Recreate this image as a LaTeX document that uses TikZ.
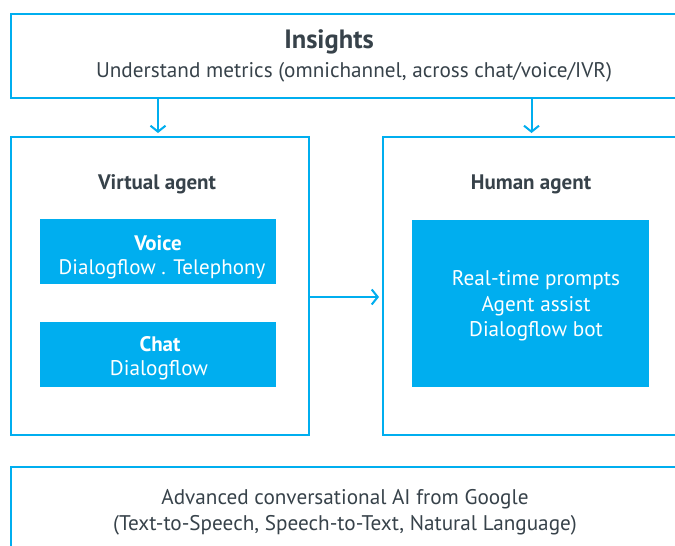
\documentclass[tikz,border=0pt]{standalone}
\usepackage{fontspec}
\setmainfont{PT Sans}
\usetikzlibrary{arrows.meta,positioning}
\definecolor{gblue}{HTML}{00AEEF}
\definecolor{gtext}{HTML}{37424A}
\tikzset{
  outerbox/.style={draw=gblue, line width=2pt, fill=white, inner sep=0pt, anchor=north west},
  innerbox/.style={fill=gblue, inner sep=0pt, anchor=north west},
  dtext/.style={text=gtext, inner sep=0pt, align=center},
  wtext/.style={text=white, inner sep=0pt, align=center},
  arr/.style={draw=gblue, line width=2pt, shorten >=3pt, -{Straight Barb[length=6pt,width=15pt,line width=2pt]}},
}
\begin{document}
\begin{tikzpicture}[x=1pt,y=-1pt]
\useasboundingbox (0,0) rectangle (675,546);
\clip (0,0) rectangle (675,546);
\fill[white] (0,0) rectangle (675,546);
% boxes
\node[outerbox, minimum width=700pt, minimum height=84pt] (insights) at (10,13) {};
\node[outerbox, minimum width=298pt, minimum height=298pt] (virtual) at (10,136) {};
\node[outerbox, minimum width=297pt, minimum height=298pt] (human) at (382,136) {};
\node[outerbox, minimum width=700pt, minimum height=120pt] (base) at (10,466) {};
\node[innerbox, minimum width=236pt, minimum height=65pt] (voice) at (40,219) {};
\node[innerbox, minimum width=236pt, minimum height=65pt] (chat) at (40,322) {};
\node[innerbox, minimum width=237pt, minimum height=167pt] (assist) at (412,220) {};
% texts
\node[dtext, font=\bfseries\fontsize{26.5}{30}\selectfont] (institle) at (329,42) {Insights};
\node[dtext, font=\fontsize{21.2}{25}\selectfont] (inssub) at (354,72.5) {Understand metrics (omnichannel, across chat/voice/IVR)};
\node[dtext, font=\bfseries\fontsize{21}{25}\selectfont] (vtitle) at (157,184) {Virtual agent};
\node[dtext, font=\bfseries\fontsize{21}{25}\selectfont] (htitle) at (531,184) {Human agent};
\node[wtext, font=\bfseries\fontsize{21}{25}\selectfont] (voicet) at (158,243) {Voice};
\node[wtext, font=\fontsize{21}{25}\selectfont] (voices) at (162,269.5) {Dialogflow . Telephony};
\node[wtext, font=\bfseries\fontsize{21}{25}\selectfont] (chatt) at (160,344) {Chat};
\node[wtext, font=\fontsize{21.2}{25}\selectfont] (chats) at (159,370.5) {Dialogflow};
\node[wtext, font=\fontsize{21.2}{25.5}\selectfont] (assistt) at (536,306) {Real-time prompts\\Agent assist\\Dialogflow bot};
\node[dtext, font=\fontsize{21.2}{26}\selectfont] (baset) at (345,512.5) {Advanced conversational AI from Google\\(Text-to-Speech, Speech-to-Text, Natural Language)};
% arrows
\draw[arr] (insights.south -| 158,0) -- (virtual.north -| 158,0);
\draw[arr] (insights.south -| human.north) -- (human.north);
\draw[arr] ([yshift=-11pt]virtual.east) -- ([yshift=-11pt]human.west);
\end{tikzpicture}
\end{document}
